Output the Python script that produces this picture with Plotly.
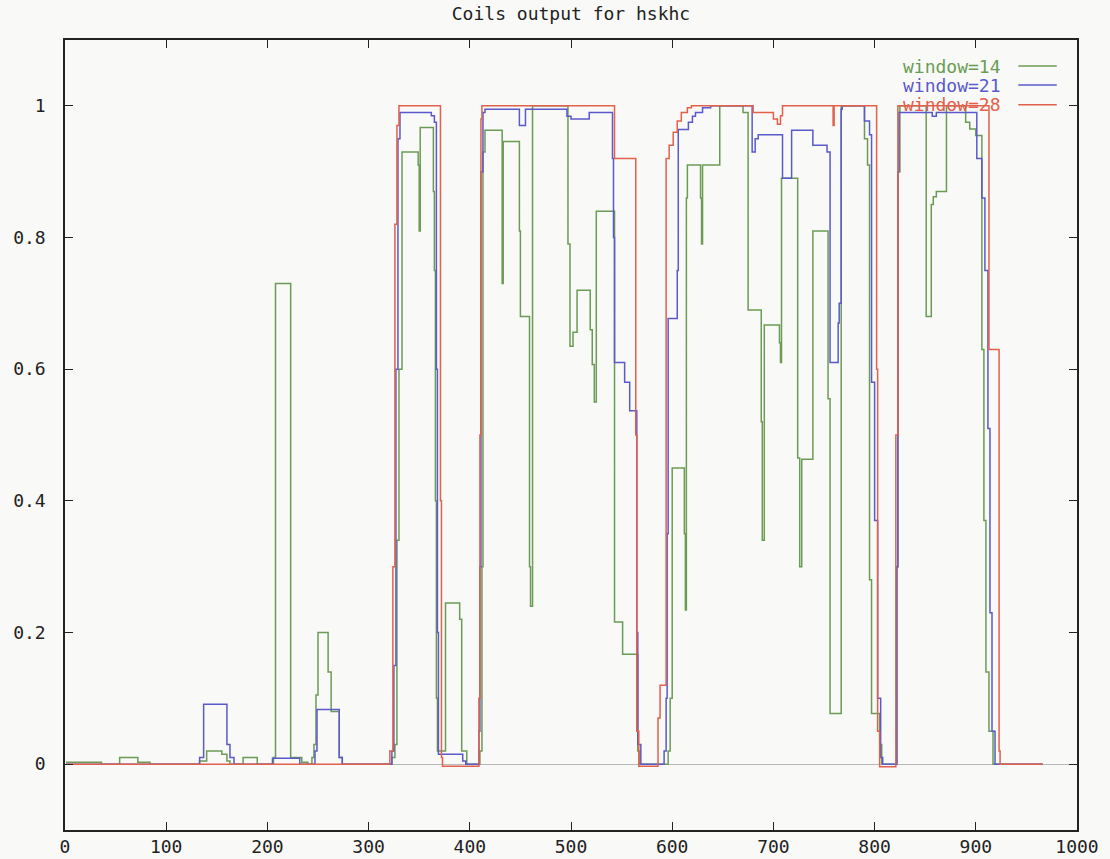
import plotly.graph_objects as go

# ---- data: step breakpoints (value holds from x until next x) ----
w14_x = [1, 36, 54, 72, 84, 133, 140, 155, 160, 163, 176, 190, 206, 208, 223, 234, 240,
         244, 246, 248, 250, 260, 263, 271, 274,
         323, 326, 328, 330, 333, 349, 350, 351, 364, 365, 366, 367, 368, 376, 390, 392, 397,
         410, 412, 413, 415, 432, 433, 449, 450, 459, 460, 462, 497, 499, 502, 506, 519, 521,
         523, 525, 543, 551, 566, 568,
         596, 598, 600, 612, 613, 614, 615, 628, 629, 630, 647, 670, 675, 688, 689, 691, 706,
         707, 708, 724, 726, 728, 739, 754, 756, 767, 790, 793, 795, 797, 805, 807,
         822, 823, 825, 851, 856, 858, 861, 871, 890, 894, 900, 906, 908, 910, 913, 917, 966]
w14_y = [0.003, 0, 0.01, 0.003, 0, 0.005, 0.02, 0.015, 0.005, 0, 0.01, 0, 0.01, 0.73, 0.01, 0.003, 0,
         0.01, 0.03, 0.105, 0.2, 0.14, 0.08, 0.01, 0,
         0.01, 0.03, 0.34, 0.6, 0.93, 0.91, 0.81, 0.967, 0.87, 0.75, 0.4, 0.1, 0.02, 0.245, 0.22, 0.02, 0,
         0.02, 0.3, 0.93, 0.963, 0.73, 0.946, 0.81, 0.68, 0.30, 0.24, 1.0, 0.79, 0.635, 0.656, 0.72, 0.66,
         0.607, 0.55, 0.84, 0.216, 0.167, 0.02, 0,
         0.02, 0.1, 0.45, 0.35, 0.234, 0.86, 0.91, 0.86, 0.79, 0.91, 1.0, 0.99, 0.69, 0.52, 0.34, 0.667, 0.64,
         0.61, 0.89, 0.465, 0.3, 0.463, 0.81, 0.555, 0.077, 1.0, 0.95, 0.91, 0.28, 0.077, 0.03, 0,
         0.3, 0.9, 1.0, 0.68, 0.85, 0.862, 0.87, 1.0, 0.975, 0.965, 0.955, 0.63, 0.37, 0.14, 0.05, 0, 0]

w21_x = [1, 133, 137, 160, 163, 167, 205, 232, 247, 249, 271, 274,
         323, 325, 327, 329, 331, 362, 365, 367, 368, 369, 393, 396,
         409, 410, 411, 413, 415, 449, 455, 496, 500, 518, 541, 542, 543, 553, 558, 565, 566, 569,
         592, 594, 595, 596, 605, 606, 616, 620, 623, 630, 638, 679, 682, 685, 709, 718, 739, 753,
         756, 764, 765, 767, 768, 790, 795, 797, 800, 803, 806, 808,
         822, 823, 824, 857, 861, 901, 906, 909, 912, 914, 916, 919, 966]
w21_y = [0, 0.01, 0.091, 0.03, 0.01, 0, 0.009, 0, 0.02, 0.083, 0.01, 0,
         0.02, 0.15, 0.6, 0.95, 0.99, 0.985, 0.975, 0.6, 0.2, 0.015, 0.005, 0,
         0.05, 0.3, 0.9, 0.99, 0.995, 0.97, 0.995, 0.984, 0.98, 0.99, 0.92, 0.80, 0.61, 0.58, 0.537, 0.2, 0.03, 0,
         0.02, 0.1, 0.35, 0.677, 0.75, 0.964, 0.975, 0.984, 0.99, 0.997, 1.0, 0.93, 0.95, 0.956, 0.89, 0.963, 0.94, 0.93,
         0.61, 0.67, 0.70, 0.995, 1.0, 0.977, 0.956, 0.58, 0.37, 0.1, 0.01, 0,
         0.3, 0.9, 0.99, 0.984, 0.99, 0.92, 0.86, 0.75, 0.51, 0.23, 0.05, 0, 0]

w28_x = [1, 321, 324, 326, 328, 330, 371, 372, 373,
         409, 410, 411, 412, 543, 564, 565, 567,
         586, 588, 594, 597, 601, 605, 609, 615, 619, 680, 700, 704, 707, 709, 759, 760, 802, 803, 805,
         821, 823, 913, 923, 924, 966]
w28_y = [0, 0.02, 0.3, 0.82, 0.97, 1.0, 0.4, 0.01, -0.003,
         0.1, 0.5, 0.98, 1.0, 0.92, 0.5, 0.05, -0.003,
         0.07, 0.12, 0.92, 0.94, 0.96, 0.977, 0.99, 0.997, 1.0, 0.99, 0.98, 0.972, 0.985, 1.0, 0.97, 1.0, 0.6, 0.05, -0.004,
         0.5, 1.0, 0.63, 0.02, 0, 0]

series_names = ["window=14", "window=21", "window=28"]
series_colors = ["#6b9c55", "#5a5acb", "#e2604c"]
x_ticks = [0, 100, 200, 300, 400, 500, 600, 700, 800, 900, 1000]
y_ticks = [0, 0.2, 0.4, 0.6, 0.8, 1]
y_tick_text = ["0", "0.2", "0.4", "0.6", "0.8", "1"]

FONT = "DejaVu Sans Mono"
FS = 18
fig = go.Figure()
for xs, ys, name, col in zip([w14_x, w21_x, w28_x], [w14_y, w21_y, w28_y], series_names, series_colors):
    fig.add_trace(go.Scatter(x=xs, y=ys, mode="lines", name=name,
                             line=dict(color=col, width=1.5, shape="hv"), showlegend=False))

# gnuplot-style legend: right-aligned text followed by a line sample
leg_y = [0.967, 0.943, 0.918]
for name, col, yy in zip(series_names, series_colors, leg_y):
    fig.add_annotation(xref="paper", yref="paper", x=0.927, y=yy, text=name, showarrow=False,
                       xanchor="right", yanchor="middle", font=dict(family=FONT, size=FS, color=col))
    fig.add_shape(type="line", xref="paper", yref="paper", x0=0.942, x1=0.980, y0=yy, y1=yy,
                  line=dict(color=col, width=1.5))

W, H = 1110, 859
fig.update_layout(
    width=W, height=H,
    margin=dict(l=65, r=33, t=40, b=29, autoexpand=False),
    paper_bgcolor="#f9f9f7", plot_bgcolor="#f9f9f7",
    title=dict(text="Coils output for hskhc", x=0.5, xref="paper", y=1 - 14 / H, yref="container",
               xanchor="center", yanchor="middle", font=dict(family=FONT, size=FS, color="#222")),
    font=dict(family=FONT, size=FS, color="#222"),
    showlegend=False,
)
fig.update_xaxes(range=[0, 1000], tickvals=x_ticks, ticks="inside", ticklen=8, tickcolor="#222",
                 showline=True, linecolor="#222", linewidth=1.5, mirror="allticks", automargin=False,
                 showgrid=False, zeroline=False, ticklabelstandoff=0)
fig.update_yaxes(range=[-0.1, 1.1], tickvals=y_ticks, ticktext=y_tick_text, ticks="inside", ticklen=8,
                 tickcolor="#222", showline=True, linecolor="#222", linewidth=1.5, mirror="allticks",
                 automargin=False, showgrid=False, zeroline=True, zerolinecolor="#b8b8b8", zerolinewidth=1,
                 ticklabelstandoff=14)

fig.write_html("out.html", config={"displayModeBar": False},
               post_script="document.body.style.margin='0px';")
